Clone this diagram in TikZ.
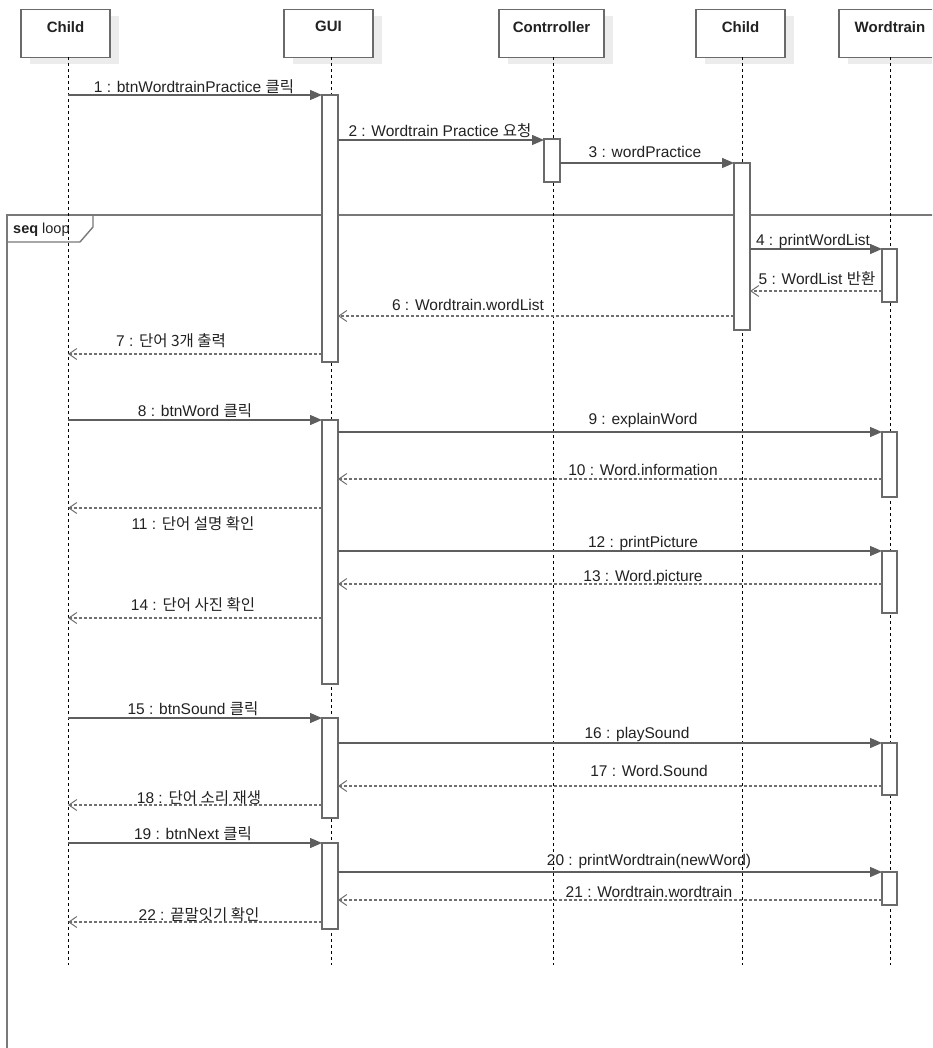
\documentclass[tikz,border=0pt]{standalone}
\usepackage{fontspec}
\setmainfont{Liberation Sans}
\newfontfamily\kr{Noto Sans CJK KR}
\newcommand{\ko}[1]{{\kr #1}}
\usetikzlibrary{arrows.meta}
\definecolor{linec}{HTML}{5E5E5E}
\definecolor{retc}{HTML}{707070}
\definecolor{boxc}{HTML}{6A6A6A}
\definecolor{shadowc}{HTML}{ECECEC}
\definecolor{txtc}{HTML}{222222}
\begin{document}
\begin{tikzpicture}[x=1pt,y=-1pt,
  hbox/.style={draw=boxc,line width=1.2pt,fill=white},
  htext/.style={font=\fontsize{15}{17}\selectfont\bfseries,text=txtc,anchor=north,inner sep=0pt},
  life/.style={draw=black,line width=0.9pt,dash pattern=on 3pt off 3pt},
  loopframe/.style={draw=boxc!90,line width=1.4pt},
  act/.style={draw=boxc,line width=1.2pt,fill=white},
  msg/.style={draw=linec,line width=1.3pt,-{Triangle[length=12pt,width=10pt]}},
  ret/.style={draw=retc,line width=1.2pt,dash pattern=on 3pt off 2pt,-{Straight Barb[length=8pt,width=11pt,line width=1pt]}},
  lbl/.style={font=\fontsize{15.5}{17}\selectfont,text=txtc,anchor=base,inner sep=0pt}
]
\useasboundingbox (0,0) rectangle (932,1048);
\clip (0,0) rectangle (932,1048);
\fill[white] (0,0) rectangle (932,1048);

% loop frame
\draw[loopframe] (7,1060) -- (7,215) -- (945,215);
\draw[loopframe] (7,242) -- (80,242) -- (93,227) -- (93,215);
\node[anchor=west,inner sep=0pt,font=\fontsize{14.5}{16}\selectfont,text=txtc] (looplbl) at (13,230) {\textbf{seq} loop};

% header shadows
\foreach \a/\b in {21/110,284/373,499/604,696/785,839/941}{
  \fill[shadowc] (\a+9,16) rectangle (\b+9,64);
}
% header boxes
\node[hbox,minimum width=89pt,minimum height=48pt,anchor=north] (h1) at (65.5,9) {};
\node[hbox,minimum width=89pt,minimum height=48pt,anchor=north] (h2) at (328.5,9) {};
\node[hbox,minimum width=105pt,minimum height=48pt,anchor=north] (h3) at (551.5,9) {};
\node[hbox,minimum width=89pt,minimum height=48pt,anchor=north] (h4) at (740.5,9) {};
\node[hbox,minimum width=102pt,minimum height=48pt,anchor=north] (h5) at (890,9) {};
\node[htext] (t1) at ([yshift=-12pt]h1.north) {Child};
\node[htext] (t2) at ([yshift=-12pt]h2.north) {GUI};
\node[htext] (t3) at ([yshift=-12pt]h3.north) {Contrroller};
\node[htext] (t4) at ([yshift=-12pt]h4.north) {Child};
\node[htext] (t5) at ([yshift=-12pt]h5.north) {Wordtrain};

% lifelines
\coordinate (e1) at (68,965);
\coordinate (e2) at (331,965);
\coordinate (e3) at (553,965);
\coordinate (e4) at (742,965);
\coordinate (e5) at (890,965);
\draw[life] (68,57) -- (e1);
\draw[life] (331,57) -- (e2);
\draw[life] (553,57) -- (e3);
\draw[life] (742,57) -- (e4);
\draw[life] (890,57) -- (e5);

% activations
\foreach \xa/\ya/\xb/\yb in {322/95/338/362, 544/139/560/182, 734/163/750/330, 882/249/897/302,
  322/420/338/684, 882/432/897/497, 882/551/897/613,
  322/718/338/818, 882/743/897/795, 322/843/338/929, 882/872/897/905}{
  \draw[act] (\xa,\ya) rectangle (\xb,\yb);
}

% message coordinates and arrows
\foreach \n/\xa/\xb/\y/\kind in {1/68/322/95/msg, 2/338/544/140/msg, 3/560/734/163/msg,
  4/750/882/249/msg, 5/882/750/291/ret, 6/734/338/316/ret, 7/322/68/354/ret,
  8/68/322/420/msg, 9/338/882/432/msg, 10/882/338/479/ret, 11/322/68/508/ret,
  12/338/882/551/msg, 13/882/338/584/ret, 14/322/68/618/ret,
  15/68/322/718/msg, 16/338/882/743/msg, 17/882/338/786/ret, 18/322/68/805/ret,
  19/68/322/843/msg, 20/338/882/872/msg, 21/882/338/900/ret, 22/322/68/922/ret}{
  \coordinate (s\n) at (\xa,\y);
  \coordinate (d\n) at (\xb,\y);
  \draw[\kind] (s\n) -- (d\n);
}

% labels
\node[lbl] (l1) at (194,93) {1 : btnWordtrainPractice \ko{클릭}};
\node[lbl] (l2) at (440,137) {2 : Wordtrain Practice \ko{요청}};
\node[lbl] (l3) at (645,158) {3 : wordPractice};
\node[lbl] (l4) at (813,246) {4 : printWordList};
\node[lbl] (l5) at (817,284) {5 : WordList \ko{반환}};
\node[lbl] (l6) at (468,310) {6 : Wordtrain.wordList};
\node[lbl] (l7) at (171,346) {7 : \ko{단어 3개 출력}};
\node[lbl] (l8) at (195,416) {8 : btnWord \ko{클릭}};
\node[lbl] (l9) at (643,424) {9 : explainWord};
\node[lbl] (l10) at (643,475) {10 : Word.information};
\node[lbl] (l11) at (193,529) {11 : \ko{단어 설명 확인}};
\node[lbl] (l12) at (643,547) {12 : printPicture};
\node[lbl] (l13) at (643,581) {13 : Word.picture};
\node[lbl] (l14) at (193,610) {14 : \ko{단어 사진 확인}};
\node[lbl] (l15) at (193,714) {15 : btnSound \ko{클릭}};
\node[lbl] (l16) at (637,738) {16 : playSound};
\node[lbl] (l17) at (649,776) {17 : Word.Sound};
\node[lbl] (l18) at (199,803) {18 : \ko{단어 소리 재생}};
\node[lbl] (l19) at (193,839) {19 : btnNext \ko{클릭}};
\node[lbl] (l20) at (649,865) {20 : printWordtrain(newWord)};
\node[lbl] (l21) at (649,897) {21 : Wordtrain.wordtrain};
\node[lbl] (l22) at (199,920) {22 : \ko{끝말잇기 확인}};
\end{tikzpicture}
\end{document}
